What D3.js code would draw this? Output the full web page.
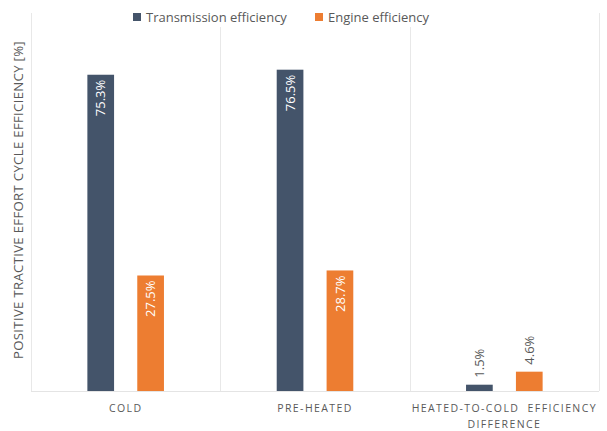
<!DOCTYPE html>
<html>
<head>
<meta charset="utf-8">
<script src="https://cdn.jsdelivr.net/npm/d3@7"></script>
<style>
  html, body { margin: 0; padding: 0; background: #fff; }
  svg { display: block; font-family: "Open Sans", sans-serif; }
</style>
</head>
<body>
<svg id="chart" width="607" height="431"></svg>
<script>
const categories = ["COLD", "PRE-HEATED", "HEATED-TO-COLD  EFFICIENCY|DIFFERENCE"];
const seriesNames = ["Transmission efficiency", "Engine efficiency"];
const transmission = [75.3, 76.5, 1.5];
const engine = [27.5, 28.7, 4.6];
const colors = ["#44546A", "#ED7D31"];
const yTitle = "POSITIVE TRACTIVE EFFORT CYCLE EFFICIENCY [%]";

const svg = d3.select("#chart");
const plotLeft = 31, plotRight = 599, plotTop = 13, plotBottom = 391;

const x0 = d3.scaleBand().domain(categories).range([plotLeft, plotRight]).padding(0);
const x1 = d3.scaleBand().domain(seriesNames).range([0, x0.bandwidth()])
  .paddingInner(0.465).paddingOuter(1.13);
const y = d3.scaleLinear().domain([0, 90]).range([plotBottom, plotTop]);

const data = categories.map((c, i) => ({
  cat: c,
  vals: [
    { s: seriesNames[0], v: transmission[i], c: colors[0] },
    { s: seriesNames[1], v: engine[i], c: colors[1] }
  ]
}));

// vertical category gridlines
const bounds = categories.map(c => x0(c)).concat([x0(categories[categories.length - 1]) + x0.bandwidth()]);
svg.selectAll("line.grid").data(bounds).enter().append("line")
  .attr("class", "grid")
  .attr("x1", d => Math.round(d) + 0.5).attr("x2", d => Math.round(d) + 0.5)
  .attr("y1", plotTop).attr("y2", plotBottom)
  .attr("stroke", "#e8e8e8").attr("stroke-width", 1);

// bottom axis line
svg.append("line").attr("x1", plotLeft).attr("x2", plotRight)
  .attr("y1", plotBottom + 0.5).attr("y2", plotBottom + 0.5)
  .attr("stroke", "#e4e4e4").attr("stroke-width", 1);

// bars
const groups = svg.selectAll("g.cat").data(data).enter().append("g")
  .attr("class", "cat")
  .attr("transform", d => `translate(${x0(d.cat)},0)`);

groups.selectAll("rect").data(d => d.vals).enter().append("rect")
  .attr("x", d => x1(d.s))
  .attr("y", d => y(d.v))
  .attr("width", x1.bandwidth())
  .attr("height", d => y(0) - y(d.v))
  .attr("fill", d => d.c);

// value labels
groups.selectAll("text.val").data(d => d.vals).enter().append("text")
  .attr("class", "val")
  .attr("transform", d => {
    const cx = x1(d.s) + x1.bandwidth() / 2;
    const inside = d.v > 10;
    const ty = inside ? y(d.v) + 5 : y(d.v) - 7;
    return `translate(${cx},${ty}) rotate(-90)`;
  })
  .attr("text-anchor", d => d.v > 10 ? "end" : "start")
  .attr("dy", "0.36em")
  .attr("font-size", 13)
  .attr("fill", d => d.v > 10 ? "#ffffff" : "#595959")
  .text(d => d.v.toFixed(1) + "%");

// category labels
const catText = svg.selectAll("text.catlbl").data(categories).enter().append("text")
  .attr("class", "catlbl")
  .attr("x", d => x0(d) + x0.bandwidth() / 2)
  .attr("y", 412)
  .attr("text-anchor", "middle")
  .attr("font-size", 10.5)
  .attr("letter-spacing", "1.4px")
  .attr("fill", "#595959");
catText.each(function(d) {
  const parts = d.split("|");
  const t = d3.select(this);
  parts.forEach((p, i) => {
    t.append("tspan")
      .attr("x", x0(d) + x0.bandwidth() / 2)
      .attr("dy", i === 0 ? 0 : 16)
      .attr("xml:space", "preserve")
      .text(p);
  });
});

// y axis title
svg.append("text")
  .attr("transform", `translate(23,200) rotate(-90)`)
  .attr("text-anchor", "middle")
  .attr("font-size", 13.2)
  .attr("letter-spacing", "0.3px")
  .attr("fill", "#595959")
  .text(yTitle);

// legend
const legend = svg.append("g").attr("transform", "translate(0,17)");
legend.append("rect").attr("x", 125).attr("y", -10).attr("width", 315).attr("height", 20).attr("fill", "#fff");
const legX = [133, 315];
seriesNames.forEach((s, i) => {
  legend.append("rect").attr("x", legX[i]).attr("y", -4).attr("width", 8).attr("height", 8).attr("fill", colors[i]);
  legend.append("text").attr("x", legX[i] + 13).attr("y", 0).attr("dy", "0.35em")
    .attr("font-size", 13).attr("fill", "#595959").text(s);
});
</script>
</body>
</html>
